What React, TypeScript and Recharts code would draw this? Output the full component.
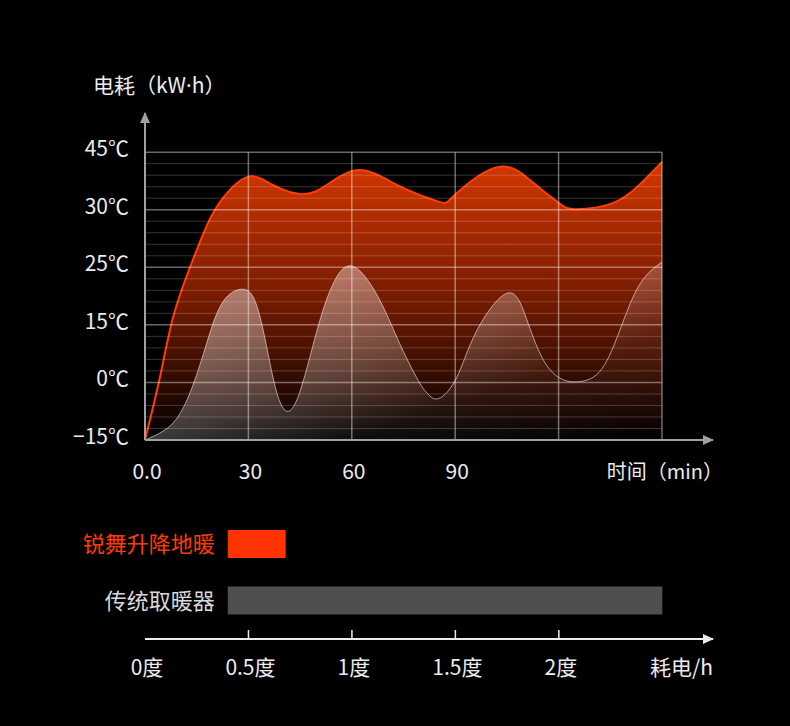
import { AreaChart, Area, XAxis, YAxis, ReferenceLine, BarChart, Bar, Cell, LabelList } from "recharts";

// y is drawn on grid levels: 0..5 map to the six (uneven) temperature labels
const tempLabels = ["−15℃", "0℃", "15℃", "25℃", "30℃", "45℃"];
const timeTicks = [0, 30, 60, 90];
const timeLabels = ["0.0", "30", "60", "90"];

// red curve (锐舞升降地暖)
const redMinutes = [0, 4.3, 8.1, 13, 18, 22.6, 29.8, 37.1, 45.5, 52.7, 62.3, 73.8, 85.2, 89.8, 102.2, 112.4, 120.2, 125.1, 135.5, 143.4, 150];
const redLevels = [0, 1.08, 2.12, 2.99, 3.73, 4.2, 4.57, 4.43, 4.27, 4.43, 4.69, 4.41, 4.14, 4.25, 4.74, 4.48, 4.11, 4.01, 4.11, 4.43, 4.83];

// white curve (传统取暖器)
const whiteMinutes = [0, 4.3, 9.3, 13.9, 18, 22.6, 28.4, 32.4, 35.6, 38.2, 41.1, 44.9, 49.8, 54.4, 60.2, 67.6, 73.4, 79.2, 82.1, 85.2, 90.4, 96.1, 105.1, 110.6, 115.3, 120.2, 125.1, 131.8, 137.6, 143.4, 150];
const whiteLevels = [0, 0.12, 0.38, 0.95, 1.7, 2.4, 2.62, 2.34, 1.53, 0.83, 0.5, 0.83, 1.88, 2.69, 3.02, 2.49, 1.74, 1.04, 0.8, 0.72, 1.08, 1.88, 2.55, 2.12, 1.42, 1.08, 1.01, 1.18, 1.88, 2.69, 3.09];

// bottom comparison
const heaters = ["锐舞升降地暖", "传统取暖器"];
const usageFrom = [0.4, 0.4];
const usageTo = [0.68, 2.5];
const heaterColors = ["#ff3300", "#4f4f4f"];
const heaterTextColors = ["#ff3a0a", "#d8d8d8"];
const usageTicks = [0, 0.5, 1, 1.5, 2];
const usageLabels = ["0度", "0.5度", "1度", "1.5度", "2度"];

const TIME_END = 164.8; // arrow tip of time axis
const LEVEL_END = 5.68; // arrow tip of level axis
const USAGE_END = 2.745;

const FONT = '"Noto Sans CJK SC", "Noto Sans", sans-serif';
const TEXT = "#ececec";

const pick = (mins: number[], vals: number[], m: number) => {
  const i = mins.indexOf(m);
  return i < 0 ? null : vals[i];
};

const allMinutes = Array.from(new Set([...redMinutes, ...whiteMinutes])).sort((a, b) => a - b);
const curveData = allMinutes.map((m) => ({
  min: m,
  red: pick(redMinutes, redLevels, m),
  white: pick(whiteMinutes, whiteLevels, m),
}));

const minorLevels = Array.from({ length: 25 }, (_, i) => (i + 1) / 5).filter((v) => Math.abs(v - Math.round(v)) > 1e-6);
const majorLevels = [1, 2, 3, 4, 5];
const gridMinutes = [30, 60, 90, 120, 150];

const barData = heaters.map((name, i) => ({ name, range: [usageFrom[i], usageTo[i]] }));

const LevelTick = ({ x, y, payload }: any) => {
  const v = payload.value;
  if (v === LEVEL_END) {
    return <polygon points={`${x},${y - 1} ${x - 5},${y + 10} ${x + 5},${y + 10}`} fill="#a0a0a0" />;
  }
  return (
    <text x={x - 16} y={y} dy={4} textAnchor="end" fill={TEXT} fontSize={21} fontFamily={FONT}>
      {tempLabels[v]}
    </text>
  );
};

const TimeTick = ({ x, y, payload }: any) => {
  const v = payload.value;
  if (v === TIME_END) {
    return (
      <g>
        <polygon points={`${x + 1},${y} ${x - 10},${y - 5} ${x - 10},${y + 5}`} fill="#a0a0a0" />
        <text x={x + 10} y={y + 39} textAnchor="end" fill={TEXT} fontSize={20} fontFamily={FONT}>
          时间（min）
        </text>
      </g>
    );
  }
  return (
    <text x={x + 2} y={y + 39} textAnchor="middle" fill={TEXT} fontSize={21} fontFamily={FONT}>
      {timeLabels[timeTicks.indexOf(v)]}
    </text>
  );
};

const UsageTick = ({ x, y, payload }: any) => {
  const v = payload.value;
  if (v === USAGE_END) {
    return (
      <g>
        <polygon points={`${x + 1},${y} ${x - 10},${y - 5} ${x - 10},${y + 5}`} fill="#ececec" />
        <text x={x} y={y + 36} textAnchor="end" fill={TEXT} fontSize={21} fontFamily={FONT}>
          耗电/h
        </text>
      </g>
    );
  }
  return (
    <g>
      {v > 0 && <line x1={x} x2={x} y1={y - 9} y2={y} stroke="#ececec" strokeWidth={1.5} />}
      <text x={x + 2} y={y + 36} textAnchor="middle" fill={TEXT} fontSize={21} fontFamily={FONT}>
        {usageLabels[usageTicks.indexOf(v)]}
      </text>
    </g>
  );
};

const HeaterLabel = ({ x, y, height, index }: any) => (
  <text
    x={x - 13}
    y={y + height / 2}
    dy={8}
    textAnchor="end"
    fill={heaterTextColors[index]}
    fontSize={22}
    fontFamily={FONT}
  >
    {heaters[index]}
  </text>
);

export default function App() {
  return (
    <div style={{ position: "absolute", left: 0, top: 0, width: 790, height: 726, background: "#000", fontFamily: FONT }}>
      <svg width={300} height={110} style={{ position: "absolute", left: 0, top: 0 }}>
        <text x={93} y={93} fill={TEXT} fontSize={21} fontFamily={FONT}>
          电耗（kW<tspan fontFamily='"Noto Sans", sans-serif'>·</tspan>h）
        </text>
      </svg>

      <div style={{ position: "absolute", left: 0, top: 0 }}>
        <AreaChart width={790} height={500} data={curveData} margin={{ top: 113, right: 77, bottom: 30, left: 0 }}>
          <defs>
            <linearGradient id="redFill" x1="0" y1="0" x2="0" y2="1">
              <stop offset="0%" stopColor="#d43700" />
              <stop offset="45%" stopColor="#7e1d00" />
              <stop offset="100%" stopColor="#000000" />
            </linearGradient>
            <linearGradient id="whiteFill" x1="0" y1="0" x2="1" y2="1">
              <stop offset="0%" stopColor="#ffffff" stopOpacity={0.45} />
              <stop offset="20%" stopColor="#ffffff" stopOpacity={0.4} />
              <stop offset="50%" stopColor="#ffffff" stopOpacity={0.22} />
              <stop offset="70%" stopColor="#ffffff" stopOpacity={0.05} />
              <stop offset="100%" stopColor="#ffffff" stopOpacity={0} />
            </linearGradient>
          </defs>
          <XAxis
            dataKey="min"
            type="number"
            domain={[0, TIME_END]}
            allowDataOverflow
            ticks={[...timeTicks, TIME_END]}
            interval={0}
            tickSize={0}
            tickMargin={0}
            tick={<TimeTick />}
            axisLine={{ stroke: "#a0a0a0", strokeWidth: 2 }}
            height={30}
          />
          <YAxis
            type="number"
            domain={[0, LEVEL_END]}
            allowDataOverflow
            ticks={[0, 1, 2, 3, 4, 5, LEVEL_END]}
            interval={0}
            tickSize={0}
            tickMargin={0}
            tick={<LevelTick />}
            axisLine={{ stroke: "#a0a0a0", strokeWidth: 2 }}
            width={145}
          />
          <Area
            type="natural"
            dataKey="red"
            stroke="#ff3d00"
            strokeWidth={2}
            fill="url(#redFill)"
            fillOpacity={1}
            connectNulls
            dot={false}
            activeDot={false}
            isAnimationActive={false}
          />
          <Area
            type="natural"
            dataKey="white"
            stroke="rgba(255,235,230,0.6)"
            strokeWidth={1}
            fill="url(#whiteFill)"
            fillOpacity={1}
            connectNulls
            dot={false}
            activeDot={false}
            isAnimationActive={false}
          />
          {minorLevels.map((v) => (
            <ReferenceLine
              key={`mn${v}`}
              segment={[{ x: 0, y: v }, { x: 150, y: v }]}
              stroke="rgba(255,255,255,0.2)"
              strokeWidth={1}
            />
          ))}
          {majorLevels.map((v) => (
            <ReferenceLine
              key={`mj${v}`}
              segment={[{ x: 0, y: v }, { x: 150, y: v }]}
              stroke="rgba(255,255,255,0.4)"
              strokeWidth={1.5}
            />
          ))}
          {gridMinutes.map((m) => (
            <ReferenceLine
              key={`v${m}`}
              segment={[{ x: m, y: 0 }, { x: m, y: 5 }]}
              stroke="rgba(255,255,255,0.42)"
              strokeWidth={1.5}
            />
          ))}
        </AreaChart>
      </div>

      <div style={{ position: "absolute", left: 0, top: 480 }}>
        <BarChart layout="vertical" width={790} height={200} data={barData} margin={{ top: 36, right: 77, bottom: 11, left: 145 }}>
          <XAxis
            type="number"
            domain={[0, USAGE_END]}
            allowDataOverflow
            ticks={[...usageTicks, USAGE_END]}
            interval={0}
            tickSize={0}
            tickMargin={0}
            tick={<UsageTick />}
            axisLine={{ stroke: "#ececec", strokeWidth: 2 }}
            height={30}
          />
          <YAxis type="category" dataKey="name" hide width={0} padding={{ top: 0, bottom: 10 }} />
          <Bar dataKey="range" barSize={28} isAnimationActive={false}>
            {barData.map((d, i) => (
              <Cell key={d.name} fill={heaterColors[i]} />
            ))}
            <LabelList dataKey="name" content={<HeaterLabel />} />
          </Bar>
        </BarChart>
      </div>
    </div>
  );
}
